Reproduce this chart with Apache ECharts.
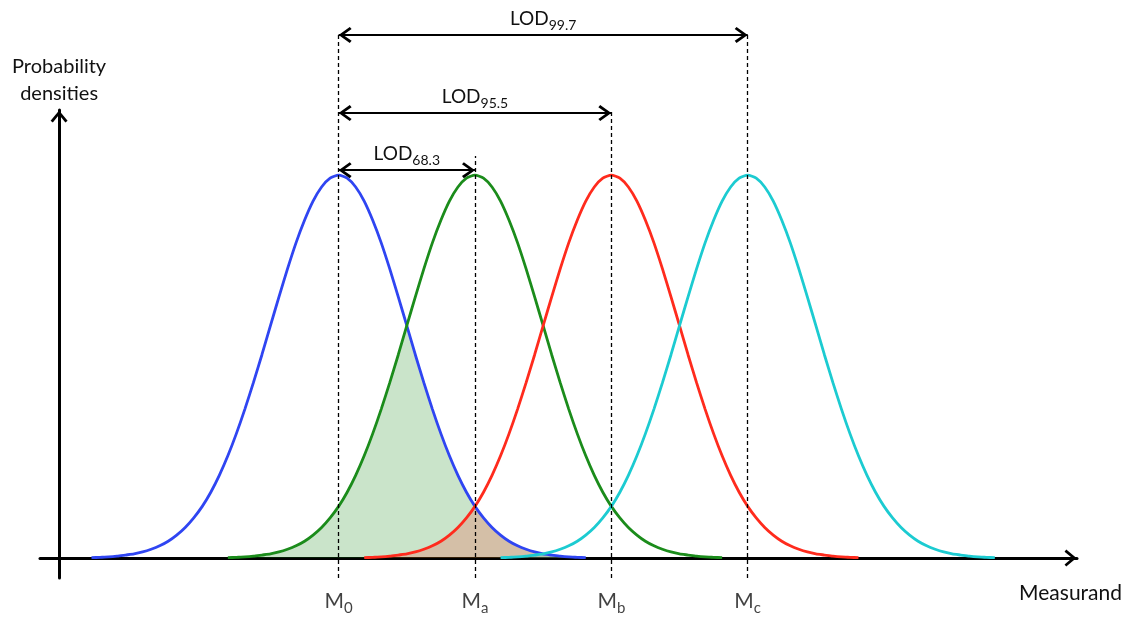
<!DOCTYPE html>
<html>
<head>
<meta charset="utf-8">
<script src="https://cdn.jsdelivr.net/npm/echarts@6/dist/echarts.min.js"></script>
<style>
  html, body { margin: 0; padding: 0; background: #fff; }
  #chart { width: 1128px; height: 617px; }
</style>
</head>
<body>
<div id="chart"></div>
<script>
// one density curve, every 0.125 sigma from its centre (it is symmetric)
const shapeOffsets = [0, 0.125, 0.25, 0.375, 0.5, 0.625, 0.75, 0.875, 1, 1.125, 1.25, 1.375, 1.5, 1.625,
  1.75, 1.875, 2, 2.125, 2.25, 2.375, 2.5, 2.625, 2.75, 2.875, 3, 3.125, 3.25, 3.375, 3.5, 3.625];
const shapeHeights = [1, 0.992, 0.969, 0.932, 0.882, 0.823, 0.755, 0.682, 0.607, 0.531, 0.458, 0.389, 0.325, 0.267,
  0.216, 0.172, 0.135, 0.105, 0.08, 0.06, 0.044, 0.032, 0.023, 0.016, 0.011, 0.008, 0.005, 0.003, 0.002, 0.001];

// curve centres on the measurand axis (sigma units, y axis at 0)
const meanNames = ['0', 'a', 'b', 'c'];
const means = [4.1, 6.1, 8.1, 10.1];
const curveColors = ['#2f45f2', '#1b8c1b', '#ff2b1d', '#1ccbd1'];
const fillColors = ['', 'rgba(27,140,27,0.23)', 'rgba(255,43,29,0.2)', 'rgba(28,203,209,0.2)'];

// LOD arrows: which centre they reach, subscript, height
const lodTargets = [1, 2, 3];
const lodLevels = ['68.3', '95.5', '99.7'];
const lodHeights = [1.013, 1.162, 1.366];

// top of the dashed guide at each centre
const guideTops = [1.371, 1.05, 1.165, 1.371];

const xMin = -0.28, xMax = 14.93;
const yMin = -0.052, yMax = 1.17;
const gridTop = 110, gridBottom = 39, chartH = 617;
const pxPerY = (chartH - gridTop - gridBottom) / (yMax - yMin);
// full-height overlay grid for the annotations, same scale
const yMin2 = yMin - gridBottom / pxPerY;
const yMax2 = yMax + gridTop / pxPerY;

const chevron = 'path://M10,0L20,12L17.4,14L10,5L2.6,14L0,12Z';
const font = 'Lato';

const step = shapeOffsets[1];
function curveAt(mean, x) {
  const k = Math.round(Math.abs(x - mean) / step);
  return k < shapeHeights.length ? shapeHeights[k] : 0;
}
function curveData(mean) {
  const pts = [];
  const n = shapeOffsets.length - 1;
  for (let i = -n; i <= n; i++) {
    const k = Math.abs(i);
    pts.push([mean + Math.sign(i) * shapeOffsets[k], shapeHeights[k]]);
  }
  return pts;
}
// area under both the first curve and another one
function overlapData(m1, m2) {
  return curveData(m1).map(p => [p[0], Math.min(p[1], curveAt(m2, p[0]))]);
}

const series = [];
means.forEach((m, i) => {
  series.push({
    type: 'line', name: 'M' + meanNames[i], data: curveData(m),
    smooth: 0.2, showSymbol: false, silent: true,
    lineStyle: { color: curveColors[i], width: 2.8 }
  });
});
for (let i = 1; i < means.length; i++) {
  series.push({
    type: 'line', data: overlapData(means[0], means[i]),
    showSymbol: false, silent: true,
    lineStyle: { width: 0, opacity: 0 },
    areaStyle: { color: fillColors[i], opacity: 1 }
  });
}

const endCap = { symbolSize: [16, 13], symbolOffset: [0, 6.5] };

// dashed guides and LOD arrows
series.push({
  type: 'line', xAxisIndex: 1, yAxisIndex: 1, data: [],
  markLine: {
    silent: true, animation: false, symbol: ['none', 'none'],
    lineStyle: { color: '#000', width: 1.3, type: [4, 3] },
    label: { show: false },
    data: means.map((m, i) => [{ coord: [m, yMin] }, { coord: [m, guideTops[i]] }])
  }
});
series.push({
  type: 'line', xAxisIndex: 1, yAxisIndex: 1, data: [],
  markLine: {
    silent: true, animation: false, symbol: [chevron, chevron],
    lineStyle: { color: '#000', width: 2.2, type: 'solid' },
    label: {
      show: true, position: 'insideMiddleTop', distance: 4,
      formatter: p => `{b|LOD}{s|${p.name}}`,
      rich: {
        b: { fontFamily: font, fontSize: 19, lineHeight: 24, color: '#111' },
        s: { fontFamily: font, fontSize: 14, lineHeight: 24, color: '#111', padding: [13, 0, 0, 0] }
      }
    },
    data: lodTargets.map((t, i) => [
      Object.assign({ coord: [means[0], lodHeights[i]], name: lodLevels[i] }, endCap),
      Object.assign({ coord: [means[t], lodHeights[i]] }, endCap)
    ])
  }
});

// M0 / Ma / Mb / Mc under the axis
series.push({
  type: 'scatter', xAxisIndex: 1, yAxisIndex: 1, silent: true,
  symbolSize: 1, itemStyle: { color: 'rgba(0,0,0,0)' },
  data: means.map((m, i) => ({ value: [m, -0.112], name: meanNames[i] })),
  label: {
    show: true, position: 'inside',
    formatter: p => `{m|M}{s|${p.name}}`,
    rich: {
      m: { fontFamily: font, fontSize: 21, lineHeight: 26, color: '#111' },
      s: { fontFamily: font, fontSize: 15, lineHeight: 26, color: '#111', padding: [14, 0, 0, 0] }
    }
  }
});

const chart = echarts.init(document.getElementById('chart'));
chart.setOption({
  animation: false,
  backgroundColor: '#fff',
  textStyle: { fontFamily: font },
  grid: [
    { left: 40, right: 51, top: gridTop, bottom: gridBottom },
    { left: 40, right: 51, top: 0, bottom: 0 }
  ],
  xAxis: [
    {
      gridIndex: 0, type: 'value', min: xMin, max: xMax,
      axisLine: {
        onZero: true, symbol: ['none', chevron], symbolSize: [17, 13], symbolOffset: [0, -6.5],
        lineStyle: { color: '#000', width: 3 }
      },
      axisTick: { show: false }, axisLabel: { show: false }, splitLine: { show: false },
      name: 'Measurand', nameLocation: 'end', nameGap: 45,
      nameTextStyle: {
        fontFamily: font, fontSize: 21, lineHeight: 26, color: '#111',
        align: 'right', verticalAlign: 'top', padding: [22, 0, 0, 0]
      }
    },
    { gridIndex: 1, type: 'value', min: xMin, max: xMax, show: false }
  ],
  yAxis: [
    {
      gridIndex: 0, type: 'value', min: yMin, max: yMax,
      axisLine: {
        onZero: true, symbol: ['none', chevron], symbolSize: [17, 13], symbolOffset: [0, -6.5],
        lineStyle: { color: '#000', width: 3 }
      },
      axisTick: { show: false }, axisLabel: { show: false }, splitLine: { show: false },
      name: 'Probability\ndensities', nameLocation: 'end', nameGap: 3,
      nameTextStyle: { fontFamily: font, fontSize: 20, lineHeight: 27, color: '#111', align: 'center' }
    },
    { gridIndex: 1, type: 'value', min: yMin2, max: yMax2, show: false }
  ],
  series: series
});
</script>
</body>
</html>
